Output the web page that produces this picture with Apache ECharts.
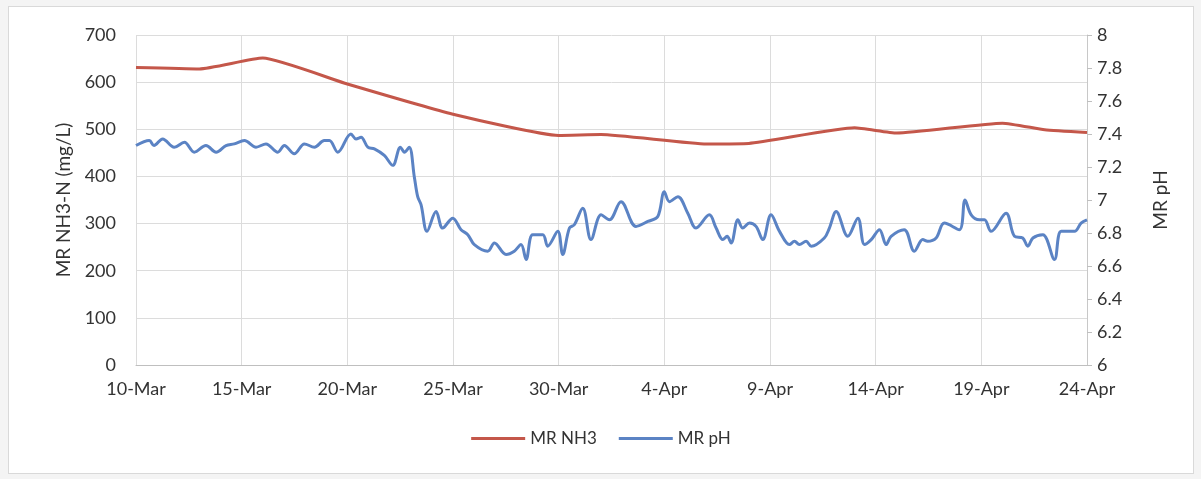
<!DOCTYPE html>
<html>
<head>
<meta charset="utf-8">
<script src="https://cdn.jsdelivr.net/npm/echarts@6/dist/echarts.min.js"></script>
<style>
  html, body { margin: 0; padding: 0; background: #f4f4f4; }
  #chart { position: absolute; left: 8px; top: 6px; width: 1184px; height: 466px; background: #fff; border: 1px solid #d9d9d9; }
</style>
</head>
<body>
<div id="chart"></div>
<script>
// x axis runs in days since 10-Mar
var xTickLabels = ['10-Mar', '15-Mar', '20-Mar', '25-Mar', '30-Mar', '4-Apr', '9-Apr', '14-Apr', '19-Apr', '24-Apr'];

var nh3Days = [0, 3, 6, 10, 15, 20, 22, 27, 29, 34, 36, 41, 43, 45];
var nh3Values = [631, 628, 651, 596, 532, 487, 489, 469, 470, 503, 492, 513, 499, 493];

var phDays = [
  0.00, 0.63, 0.85, 1.26, 1.81, 2.29, 2.76, 3.31, 3.79, 4.26, 4.65, 5.13, 5.68, 6.15, 6.71, 7.02, 7.49, 7.97, 8.44, 8.91,
  9.15, 9.55, 10.17, 10.41, 10.65, 10.97, 11.28, 11.75, 12.15, 12.51, 12.70, 12.93, 13.17, 13.33, 13.49, 13.77, 14.20, 14.51, 14.99, 15.38,
  15.70, 16.01, 16.64, 16.96, 17.51, 17.90, 18.22, 18.46, 18.77, 19.25, 19.48, 19.96, 20.19, 20.51, 20.74, 21.14, 21.53, 22.01, 22.40, 22.95,
  23.66, 24.22, 24.69, 25.00, 25.24, 25.64, 26.11, 26.50, 27.13, 27.45, 27.77, 27.97, 28.16, 28.48, 28.71, 29.03, 29.34, 29.66, 30.05, 30.45,
  30.92, 31.16, 31.39, 31.71, 31.95, 32.57, 32.81, 33.13, 33.68, 34.16, 34.47, 34.79, 35.18, 35.50, 35.73, 36.35, 36.83, 37.23, 37.46, 37.86,
  38.25, 38.96, 39.23, 39.52, 39.91, 40.15, 40.46, 41.17, 41.57, 41.96, 42.20, 42.44, 42.91, 43.46, 43.78, 44.41, 44.72, 45.00
];
var phValues = [
  7.33, 7.36, 7.33, 7.37, 7.32, 7.35, 7.29, 7.33, 7.29, 7.33, 7.34, 7.36, 7.32, 7.34, 7.29, 7.33, 7.28, 7.34, 7.32, 7.36,
  7.36, 7.29, 7.40, 7.37, 7.38, 7.32, 7.31, 7.27, 7.21, 7.32, 7.29, 7.32, 7.14, 7.02, 6.97, 6.81, 6.93, 6.83, 6.89, 6.82,
  6.79, 6.73, 6.69, 6.74, 6.67, 6.69, 6.73, 6.64, 6.79, 6.79, 6.72, 6.81, 6.67, 6.83, 6.85, 6.95, 6.76, 6.91, 6.88, 6.99,
  6.84, 6.87, 6.90, 7.05, 6.99, 7.02, 6.92, 6.83, 6.91, 6.83, 6.76, 6.78, 6.74, 6.88, 6.83, 6.86, 6.84, 6.76, 6.91, 6.81,
  6.73, 6.75, 6.73, 6.75, 6.72, 6.77, 6.83, 6.93, 6.78, 6.89, 6.73, 6.76, 6.82, 6.73, 6.78, 6.82, 6.69, 6.76, 6.75, 6.77,
  6.86, 6.82, 7.00, 6.91, 6.88, 6.88, 6.81, 6.92, 6.78, 6.77, 6.72, 6.77, 6.79, 6.64, 6.81, 6.81, 6.86, 6.88
];

function zip(xs, ys) {
  return xs.map(function (x, i) { return [x, ys[i]]; });
}

var font = 'Lato, "Open Sans", sans-serif';
var textColor = '#333';

var chart = echarts.init(document.getElementById('chart'));
chart.setOption({
  animation: false,
  textStyle: { fontFamily: font },
  grid: { left: 127, right: 106, top: 28, bottom: 108 },
  legend: {
    bottom: 21,
    left: 'center',
    itemWidth: 54,
    itemHeight: 3,
    itemGap: 22,
    icon: 'rect',
    textStyle: { fontSize: 17, color: textColor, fontFamily: font },
    data: ['MR NH3', 'MR pH']
  },
  xAxis: {
    type: 'value',
    min: 0,
    max: 45,
    interval: 5,
    axisLine: { lineStyle: { color: '#bfbfbf' } },
    axisTick: { show: false },
    splitLine: { show: true, lineStyle: { color: '#dcdcdc' } },
    axisLabel: {
      fontSize: 18,
      color: textColor,
      margin: 15,
      formatter: function (v) { return xTickLabels[Math.round(v / 5)]; }
    }
  },
  yAxis: [
    {
      type: 'value',
      min: 0,
      max: 700,
      interval: 100,
      name: 'MR NH3-N (mg/L)',
      nameLocation: 'middle',
      nameRotate: 90,
      nameGap: 62,
      nameTextStyle: { fontSize: 19, color: textColor },
      axisLine: { show: false },
      axisTick: { show: false },
      splitLine: { lineStyle: { color: '#dcdcdc' } },
      axisLabel: { fontSize: 18, color: textColor, margin: 20 }
    },
    {
      type: 'value',
      min: 6,
      max: 8,
      interval: 0.2,
      position: 'right',
      name: 'MR pH',
      nameLocation: 'middle',
      nameRotate: 90,
      nameGap: 64,
      nameTextStyle: { fontSize: 19, color: textColor },
      axisLine: { show: true, lineStyle: { color: '#c8c8c8' } },
      axisTick: { show: true, length: 5, lineStyle: { color: '#bfbfbf' } },
      splitLine: { show: false },
      axisLabel: { fontSize: 18, color: textColor, margin: 10 }
    }
  ],
  series: [
    {
      name: 'MR NH3',
      type: 'line',
      yAxisIndex: 0,
      smooth: 0.15,
      showSymbol: false,
      itemStyle: { color: '#c4574a' },
      lineStyle: { width: 3, color: '#c4574a' },
      data: zip(nh3Days, nh3Values)
    },
    {
      name: 'MR pH',
      type: 'line',
      yAxisIndex: 1,
      smooth: 0.35,
      showSymbol: false,
      itemStyle: { color: '#5b83c4' },
      lineStyle: { width: 3, color: '#5b83c4' },
      data: zip(phDays, phValues)
    }
  ]
});
</script>
</body>
</html>
